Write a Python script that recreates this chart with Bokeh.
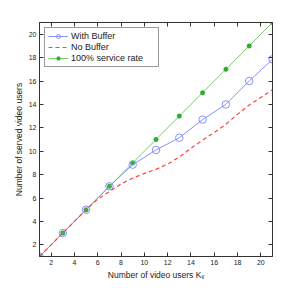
from bokeh.plotting import figure
from bokeh.models import Range1d, LinearAxis, FixedTicker, Legend, LegendItem, CustomJSTickFormatter
from bokeh.embed import file_html
from bokeh.resources import INLINE

# data
x_odd = [1, 3, 5, 7, 9, 11, 13, 15, 17, 19, 21]
with_buffer = [1, 3, 5, 7, 8.85, 10.1, 11.15, 12.7, 14.0, 16.0, 17.85]
full_rate = [1, 3, 5, 7, 9, 11, 13, 15, 17, 19, 21]
x_all = list(range(1, 22))
no_buffer = [1, 2, 3, 4, 5, 5.9, 6.55, 7.2, 7.7, 8.1, 8.45, 8.9, 9.5,
             10.25, 10.95, 11.6, 12.3, 13.15, 13.95, 14.6, 15.25]
ticks = [2, 4, 6, 8, 10, 12, 14, 16, 18, 20]

FONT = "Liberation Sans"

p = figure(frame_width=233, frame_height=234, output_backend="svg",
           toolbar_location=None, x_range=Range1d(1, 21), y_range=Range1d(1, 21),
           min_border_left=39, min_border_top=22, min_border_right=20,
           min_border_bottom=28, background_fill_color="white")
p.outline_line_color = "#333333"
p.grid.visible = False

for ax in (p.xaxis[0], p.yaxis[0]):
    ax.ticker = FixedTicker(ticks=ticks)
    ax.major_tick_in = 4
    ax.major_tick_out = 0
    ax.minor_tick_line_color = None
    ax.axis_line_color = "#333333"
    ax.major_tick_line_color = "#333333"
    ax.major_label_text_font = FONT
    ax.major_label_text_font_size = "7px"
    ax.major_label_text_color = "#222222"
    ax.axis_label_text_font = FONT
    ax.axis_label_text_font_size = "8.5px"
    ax.axis_label_text_font_style = "normal"
    ax.axis_label_text_color = "#222222"
    ax.major_label_standoff = 3

p.xaxis.axis_label = "Number of video users K\u1d65"
p.yaxis.axis_label = "Number of served video users"
p.xaxis.axis_label_standoff = 2
p.yaxis.axis_label_standoff = 2

for loc in ("above", "right"):
    a = LinearAxis(ticker=FixedTicker(ticks=ticks), major_tick_in=4, major_tick_out=0,
                   minor_tick_line_color=None,
                   formatter=CustomJSTickFormatter(code="return ''"),
                   axis_line_color="#333333", major_tick_line_color="#333333",
                   major_label_standoff=0)
    p.add_layout(a, loc)

r_full = p.line(x_odd, full_rate, line_color="#77cc66", line_width=1)
r_full_m = p.scatter(x_odd, full_rate, marker="asterisk", size=5, line_color="#33aa33",
                     line_width=1.5)
r_wb = p.line(x_odd, with_buffer, line_color="#8890ff", line_width=1)
r_wb_m = p.scatter(x_odd, with_buffer, marker="circle", size=7.5, line_color="#8890ff",
                   fill_color=None, line_width=1)
r_nb = p.line(x_all, no_buffer, line_color="#ff4444", line_width=1.2, line_dash="4 3")

legend = Legend(items=[
    LegendItem(label="With Buffer", renderers=[r_wb, r_wb_m]),
    LegendItem(label="No Buffer", renderers=[r_nb]),
    LegendItem(label="100% service rate", renderers=[r_full, r_full_m]),
], location="top_left")
legend.label_text_font = FONT
legend.label_text_font_size = "9px"
legend.label_text_color = "#222222"
legend.border_line_color = "#333333"
legend.border_line_width = 1
legend.margin = 5
legend.padding = 3
legend.spacing = 1
legend.label_height = 10
legend.label_width = 84
legend.glyph_height = 10
legend.glyph_width = 20
legend.label_standoff = 3
legend.background_fill_color = "white"
p.add_layout(legend)

open("out.html", "w").write(file_html(p, INLINE))
